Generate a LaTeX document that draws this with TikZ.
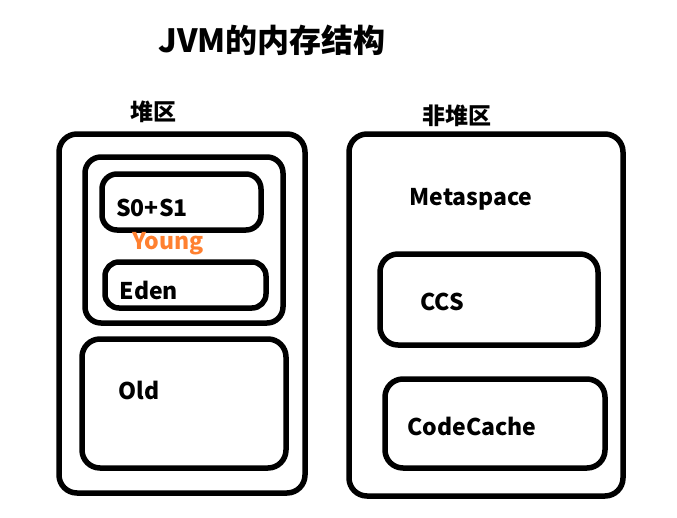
\documentclass[tikz,border=0pt]{standalone}
\usepackage{fontspec}
\setmainfont{Noto Sans CJK SC}
\definecolor{youngorange}{RGB}{255,128,48}
\begin{document}
\begin{tikzpicture}[
    x=1pt, y=-1pt,
    region/.style={
        rectangle,
        rounded corners=18pt,
        line width=5.5pt,
        draw=black
    },
    label/.style={
        font=\fontsize{23}{25}\selectfont\bfseries,
        inner sep=0pt
    }
]
\useasboundingbox (0,0) rectangle (677,517);

\node[label, font=\fontsize{32}{34}\selectfont\bfseries] (title) at (272,40) {JVM的内存结构};

% Heap
\node[label] (heaplbl) at (153,112) {堆区};
\node[region, minimum width=246pt, minimum height=359pt] (heap) at (182,313.5) {};
\node[region, minimum width=198pt, minimum height=166pt, rounded corners=16pt] (young) at (184,240) {};
\node[region, minimum width=159pt, minimum height=56pt, rounded corners=15pt] (s01) at (181.5,202) {};
\node[region, minimum width=161pt, minimum height=46pt, rounded corners=14pt] (eden) at (185.5,285) {};
\node[region, minimum width=204pt, minimum height=129pt] (old) at (184,403.5) {};
\node[label] (s01lbl) at (152,208) {S0+S1};
\node[label, text=youngorange] (younglbl) at (168,244) {Young};
\node[label] (edenlbl) at (149,290) {Eden};
\node[label] (oldlbl) at (139,390) {Old};

% Non-heap
\node[label] (nonheaplbl) at (457,116) {非堆区};
\node[region, minimum width=274pt, minimum height=362pt] (nonheap) at (486,315) {};
\node[region, minimum width=218pt, minimum height=91pt] (ccs) at (489,299.5) {};
\node[region, minimum width=220pt, minimum height=89pt] (codecache) at (495,423.5) {};
\node[label] (metalbl) at (471,199) {Metaspace};
\node[label] (ccslbl) at (442,302) {CCS};
\node[label] (codecachelbl) at (472,426) {CodeCache};

\end{tikzpicture}
\end{document}
